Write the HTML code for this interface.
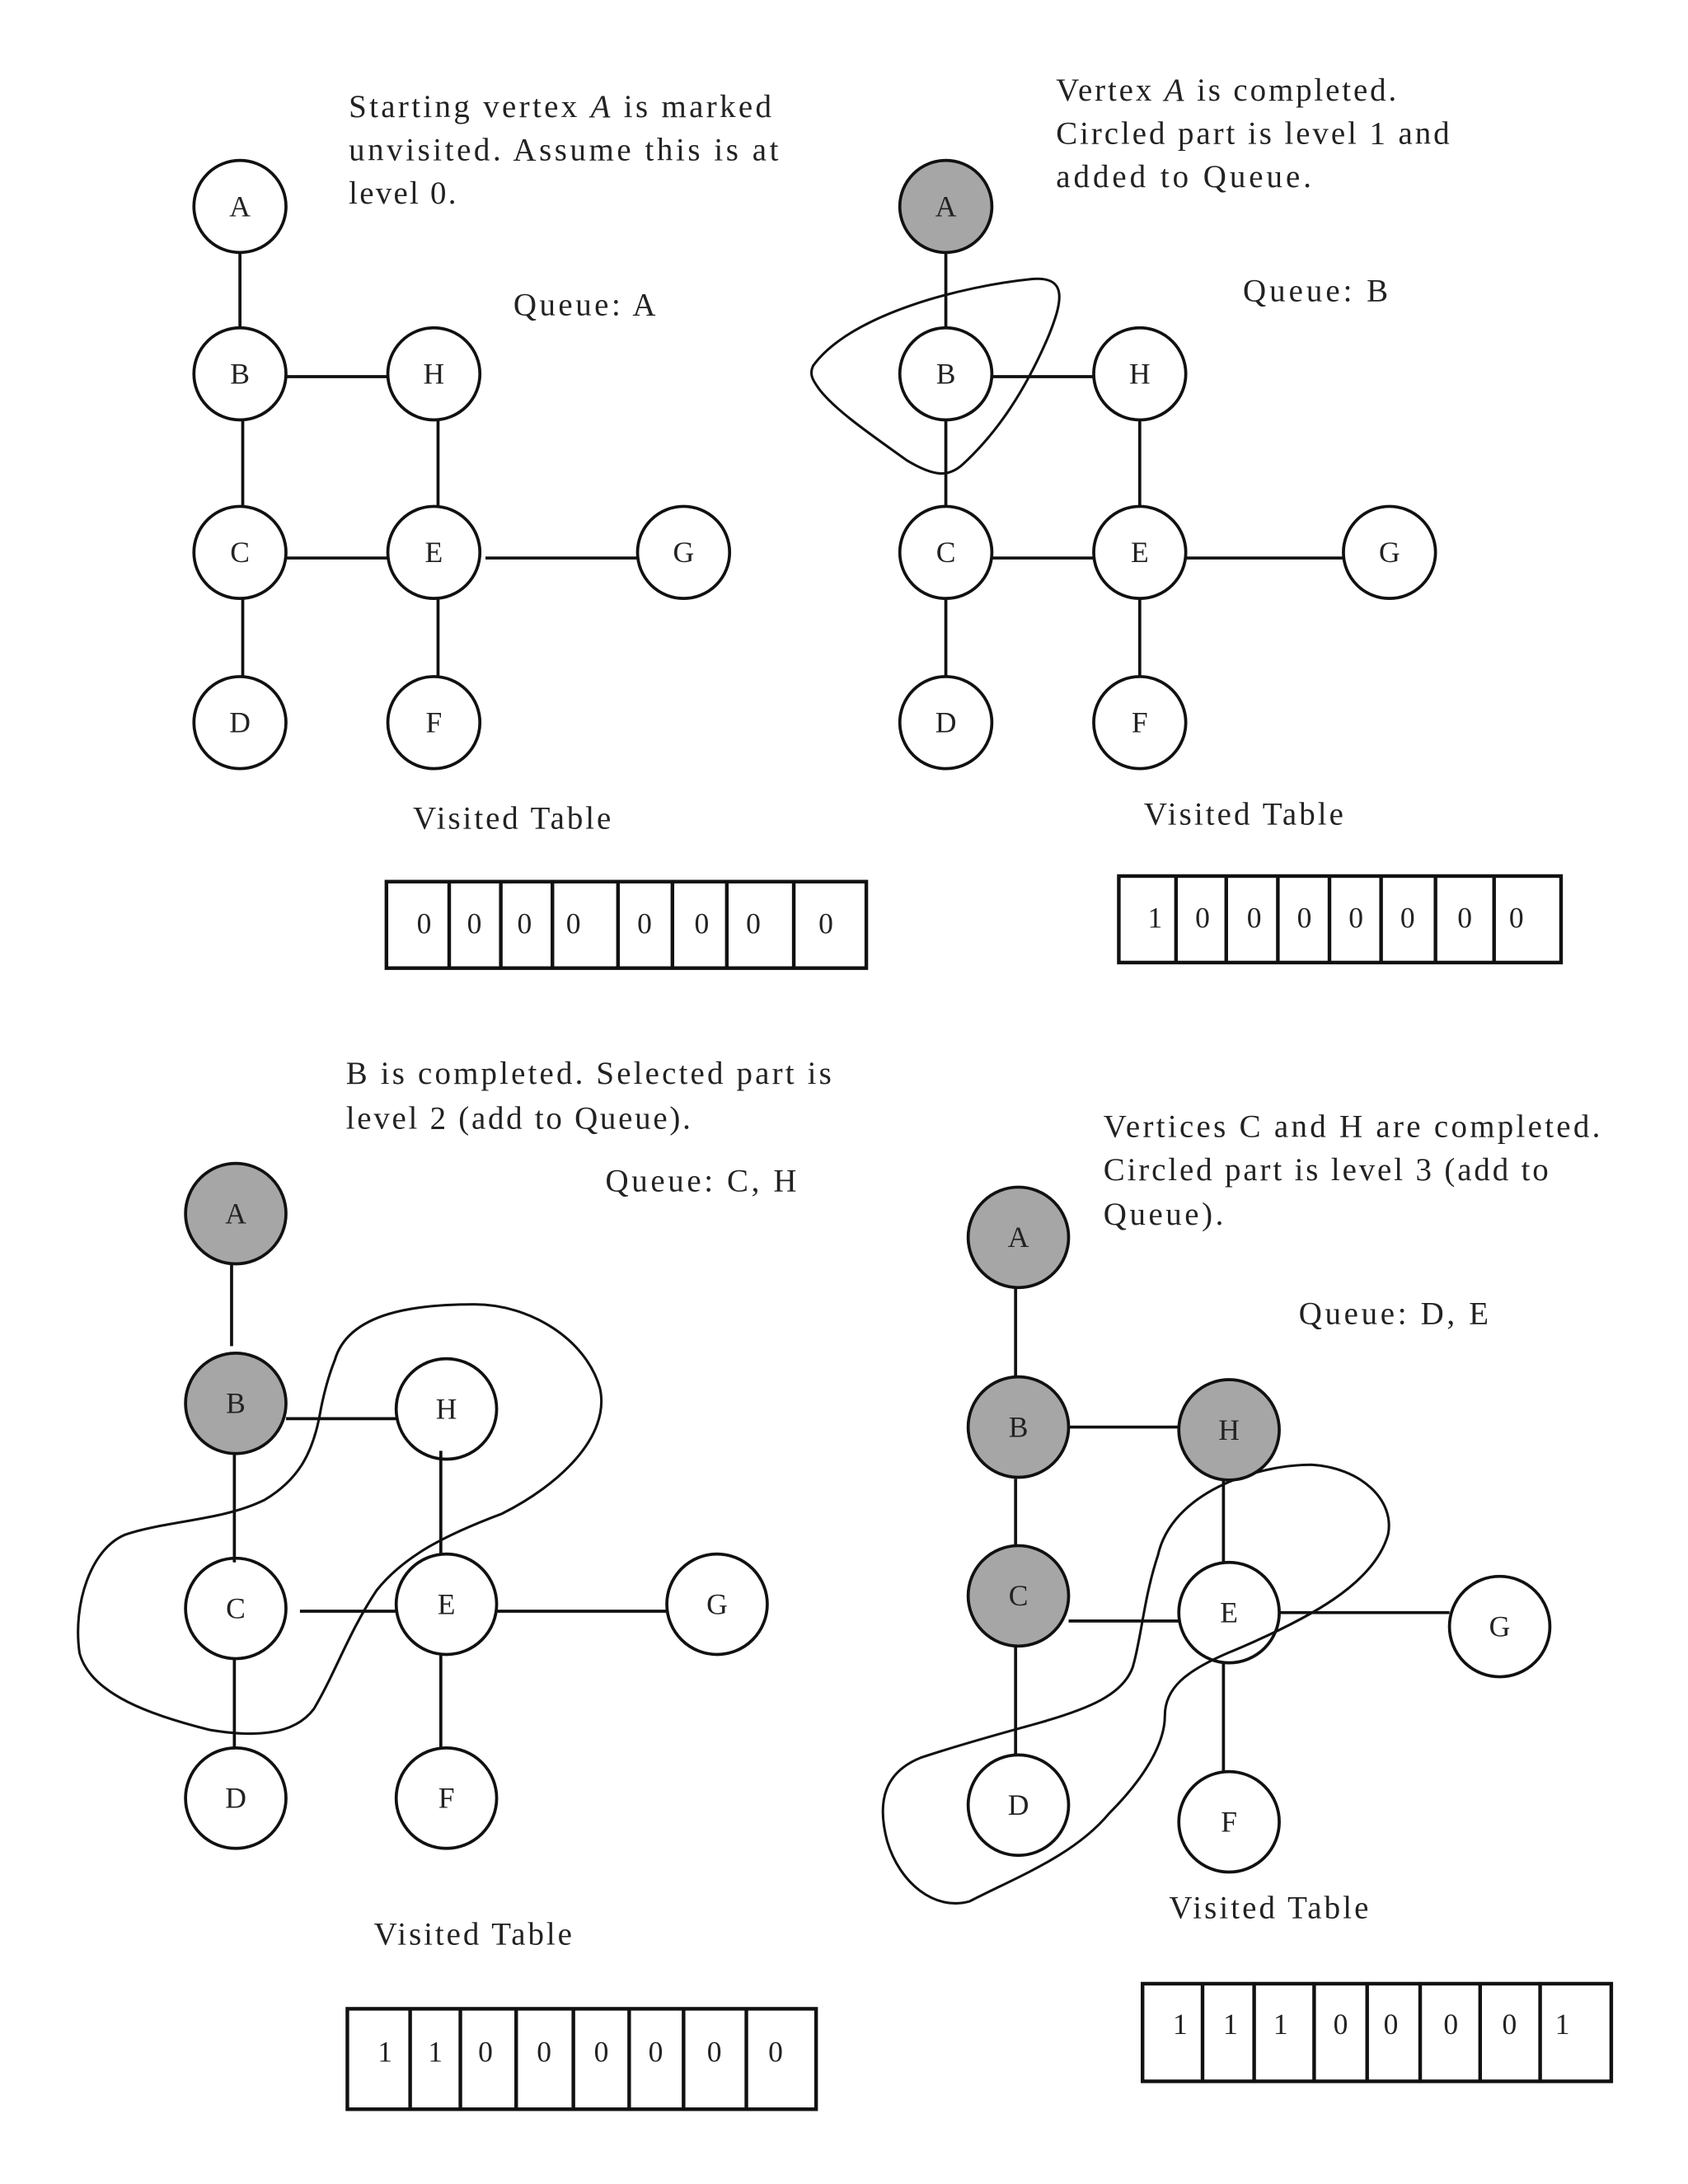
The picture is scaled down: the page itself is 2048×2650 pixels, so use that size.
<!DOCTYPE html>
<html><head><meta charset="utf-8"><style>
html,body{margin:0;padding:0;background:#fff;}
svg{display:block;}
text{font-family:"Liberation Serif","DejaVu Serif",serif;fill:#222;}
.t{font-size:23px;}
.n{font-size:21px;text-anchor:middle;}
.v{font-size:21px;text-anchor:middle;}
</style></head><body>
<svg width="2048" height="2650" viewBox="0 0 1210 1565.6" preserveAspectRatio="none" xmlns="http://www.w3.org/2000/svg">
<g stroke="#111" stroke-width="2.2" fill="none">
<line x1="172" y1="181" x2="172" y2="235"/>
<line x1="205" y1="270" x2="278" y2="270"/>
<line x1="174" y1="301" x2="174" y2="363"/>
<line x1="314" y1="301" x2="314" y2="363"/>
<line x1="205" y1="400" x2="278" y2="400"/>
<line x1="348" y1="400" x2="457" y2="400"/>
<line x1="174" y1="429" x2="174" y2="485"/>
<line x1="314" y1="429" x2="314" y2="485"/>
<line x1="678" y1="181" x2="678" y2="235"/>
<line x1="711" y1="270" x2="784" y2="270"/>
<line x1="678" y1="301" x2="678" y2="363"/>
<line x1="817" y1="301" x2="817" y2="363"/>
<line x1="711" y1="400" x2="784" y2="400"/>
<line x1="850" y1="400" x2="963" y2="400"/>
<line x1="678" y1="429" x2="678" y2="485"/>
<line x1="817" y1="429" x2="817" y2="485"/>
<line x1="166" y1="906" x2="166" y2="965"/>
<line x1="205" y1="1017" x2="284" y2="1017"/>
<line x1="168" y1="1043" x2="168" y2="1120"/>
<line x1="316" y1="1040" x2="316" y2="1115"/>
<line x1="215" y1="1155" x2="284" y2="1155"/>
<line x1="356" y1="1155" x2="478" y2="1155"/>
<line x1="168" y1="1189" x2="168" y2="1253"/>
<line x1="316" y1="1186" x2="316" y2="1253"/>
<line x1="728" y1="923" x2="728" y2="987"/>
<line x1="766" y1="1023" x2="845" y2="1023"/>
<line x1="728" y1="1060" x2="728" y2="1108"/>
<line x1="877" y1="1060" x2="877" y2="1120"/>
<line x1="766" y1="1162" x2="845" y2="1162"/>
<line x1="917" y1="1156" x2="1039" y2="1156"/>
<line x1="728" y1="1180" x2="728" y2="1258"/>
<line x1="877" y1="1192" x2="877" y2="1270"/>
<path stroke-width="1.8" d="M583 262 C610 225,690 205,740 200 C765 198,762 215,752 240 C735 280,715 310,690 333 C680 342,670 342,650 330 C625 312,600 295,588 280 C582 272,580 268,583 262 Z"/>
<path stroke-width="1.8" d="M240 975 C250 940,300 935,340 935 C380 935,420 960,430 995 C438 1030,400 1065,360 1085 C320 1100,290 1115,270 1140 C250 1170,240 1200,225 1225 C210 1245,180 1245,150 1240 C110 1230,65 1215,57 1185 C52 1150,65 1110,90 1100 C120 1090,160 1090,190 1075 C215 1060,225 1040,230 1010 C233 995,236 985,240 975 Z"/>
<path stroke-width="1.8" d="M830 1115 C840 1070,900 1050,940 1050 C975 1052,1000 1075,995 1100 C985 1135,940 1160,880 1185 C850 1198,835 1210,835 1230 C835 1250,820 1275,795 1300 C770 1330,730 1345,695 1363 C670 1370,645 1350,636 1320 C628 1290,635 1270,660 1260 C690 1250,720 1242,745 1235 C780 1225,805 1215,812 1195 C818 1175,820 1145,830 1115 Z"/>
</g>
<g stroke="#111" stroke-width="2.2">
<circle cx="172" cy="148" r="33" fill="#fff"/>
<circle cx="172" cy="268" r="33" fill="#fff"/>
<circle cx="311" cy="268" r="33" fill="#fff"/>
<circle cx="172" cy="396" r="33" fill="#fff"/>
<circle cx="311" cy="396" r="33" fill="#fff"/>
<circle cx="490" cy="396" r="33" fill="#fff"/>
<circle cx="172" cy="518" r="33" fill="#fff"/>
<circle cx="311" cy="518" r="33" fill="#fff"/>
<circle cx="678" cy="148" r="33" fill="#a6a6a6"/>
<circle cx="678" cy="268" r="33" fill="none"/>
<circle cx="817" cy="268" r="33" fill="#fff"/>
<circle cx="678" cy="396" r="33" fill="#fff"/>
<circle cx="817" cy="396" r="33" fill="#fff"/>
<circle cx="996" cy="396" r="33" fill="#fff"/>
<circle cx="678" cy="518" r="33" fill="#fff"/>
<circle cx="817" cy="518" r="33" fill="#fff"/>
<circle cx="169" cy="870" r="36" fill="#a6a6a6"/>
<circle cx="169" cy="1006" r="36" fill="#a6a6a6"/>
<circle cx="320" cy="1010" r="36" fill="none"/>
<circle cx="169" cy="1153" r="36" fill="none"/>
<circle cx="320" cy="1150" r="36" fill="none"/>
<circle cx="514" cy="1150" r="36" fill="#fff"/>
<circle cx="169" cy="1289" r="36" fill="#fff"/>
<circle cx="320" cy="1289" r="36" fill="#fff"/>
<circle cx="730" cy="887" r="36" fill="#a6a6a6"/>
<circle cx="730" cy="1023" r="36" fill="#a6a6a6"/>
<circle cx="881" cy="1025" r="36" fill="#a6a6a6"/>
<circle cx="730" cy="1144" r="36" fill="#a6a6a6"/>
<circle cx="881" cy="1156" r="36" fill="none"/>
<circle cx="1075" cy="1166" r="36" fill="#fff"/>
<circle cx="730" cy="1294" r="36" fill="none"/>
<circle cx="881" cy="1306" r="36" fill="#fff"/>
</g>
<g>
<text class="n" x="172" y="155">A</text><text class="n" x="172" y="275">B</text><text class="n" x="311" y="275">H</text><text class="n" x="172" y="403">C</text><text class="n" x="311" y="403">E</text><text class="n" x="490" y="403">G</text><text class="n" x="172" y="525">D</text><text class="n" x="311" y="525">F</text>
<text class="n" x="678" y="155">A</text><text class="n" x="678" y="275">B</text><text class="n" x="817" y="275">H</text><text class="n" x="678" y="403">C</text><text class="n" x="817" y="403">E</text><text class="n" x="996" y="403">G</text><text class="n" x="678" y="525">D</text><text class="n" x="817" y="525">F</text>
<text class="n" x="169" y="877">A</text><text class="n" x="169" y="1013">B</text><text class="n" x="320" y="1017">H</text><text class="n" x="169" y="1160">C</text><text class="n" x="320" y="1157">E</text><text class="n" x="514" y="1157">G</text><text class="n" x="169" y="1296">D</text><text class="n" x="320" y="1296">F</text>
<text class="n" x="730" y="894">A</text><text class="n" x="730" y="1030">B</text><text class="n" x="881" y="1032">H</text><text class="n" x="730" y="1151">C</text><text class="n" x="881" y="1163">E</text><text class="n" x="1075" y="1173">G</text><text class="n" x="730" y="1301">D</text><text class="n" x="881" y="1313">F</text>
</g>
<text class="t" x="250" y="84" textLength="303" lengthAdjust="spacing">Starting vertex <tspan font-style="italic">A</tspan> is marked</text>
<text class="t" x="250" y="115" textLength="308" lengthAdjust="spacing">unvisited. Assume this is at</text>
<text class="t" x="250" y="146" textLength="77" lengthAdjust="spacing">level 0.</text>
<text class="t" x="368" y="226" textLength="102" lengthAdjust="spacing">Queue: A</text>
<text class="t" x="296" y="594" textLength="142" lengthAdjust="spacing">Visited Table</text>

<text class="t" x="757" y="72" textLength="244" lengthAdjust="spacing">Vertex <tspan font-style="italic">A</tspan> is completed.</text>
<text class="t" x="757" y="103" textLength="282" lengthAdjust="spacing">Circled part is level 1 and</text>
<text class="t" x="757" y="134" textLength="183" lengthAdjust="spacing">added to Queue.</text>
<text class="t" x="891" y="216" textLength="104" lengthAdjust="spacing">Queue: B</text>
<text class="t" x="820" y="591" textLength="143" lengthAdjust="spacing">Visited Table</text>

<text class="t" x="248" y="777" textLength="348" lengthAdjust="spacing">B is completed. Selected part is</text>
<text class="t" x="248" y="809" textLength="247" lengthAdjust="spacing">level 2 (add to Queue).</text>
<text class="t" x="434" y="854" textLength="137" lengthAdjust="spacing">Queue: C, H</text>
<text class="t" x="268" y="1394" textLength="142" lengthAdjust="spacing">Visited Table</text>

<text class="t" x="791" y="815" textLength="356" lengthAdjust="spacing">Vertices C and H are completed.</text>
<text class="t" x="791" y="846" textLength="319" lengthAdjust="spacing">Circled part is level 3 (add to</text>
<text class="t" x="791" y="878" textLength="86" lengthAdjust="spacing">Queue).</text>
<text class="t" x="931" y="949" textLength="136" lengthAdjust="spacing">Queue: D, E</text>
<text class="t" x="838" y="1375" textLength="143" lengthAdjust="spacing">Visited Table</text>
<g stroke="#111" stroke-width="2.6" fill="none">
<rect x="277" y="632" width="344" height="62"/>
<path d="M322 632V694M359 632V694M396 632V694M443 632V694M482 632V694M521 632V694M569 632V694"/>
<rect x="802" y="628" width="317" height="62"/>
<path d="M843 628V690M879 628V690M916 628V690M953 628V690M990 628V690M1029 628V690M1071 628V690"/>
<rect x="249" y="1440" width="336" height="72"/>
<path d="M294 1440V1512M330 1440V1512M370 1440V1512M411 1440V1512M451 1440V1512M490 1440V1512M535 1440V1512"/>
<rect x="819" y="1422" width="336" height="70"/>
<path d="M862 1422V1492M899 1422V1492M942 1422V1492M980 1422V1492M1018 1422V1492M1061 1422V1492M1104 1422V1492"/>
</g>
<g>
<text class="v" x="304" y="669">0</text><text class="v" x="340" y="669">0</text><text class="v" x="376" y="669">0</text><text class="v" x="411" y="669">0</text><text class="v" x="462" y="669">0</text><text class="v" x="503" y="669">0</text><text class="v" x="540" y="669">0</text><text class="v" x="592" y="669">0</text>
<text class="v" x="828" y="665">1</text><text class="v" x="862" y="665">0</text><text class="v" x="899" y="665">0</text><text class="v" x="935" y="665">0</text><text class="v" x="972" y="665">0</text><text class="v" x="1009" y="665">0</text><text class="v" x="1050" y="665">0</text><text class="v" x="1087" y="665">0</text>
<text class="v" x="276" y="1478">1</text><text class="v" x="312" y="1478">1</text><text class="v" x="348" y="1478">0</text><text class="v" x="390" y="1478">0</text><text class="v" x="431" y="1478">0</text><text class="v" x="470" y="1478">0</text><text class="v" x="512" y="1478">0</text><text class="v" x="556" y="1478">0</text>
<text class="v" x="846" y="1458">1</text><text class="v" x="882" y="1458">1</text><text class="v" x="918" y="1458">1</text><text class="v" x="961" y="1458">0</text><text class="v" x="997" y="1458">0</text><text class="v" x="1040" y="1458">0</text><text class="v" x="1082" y="1458">0</text><text class="v" x="1120" y="1458">1</text>
</g>
</svg>
</body></html>
